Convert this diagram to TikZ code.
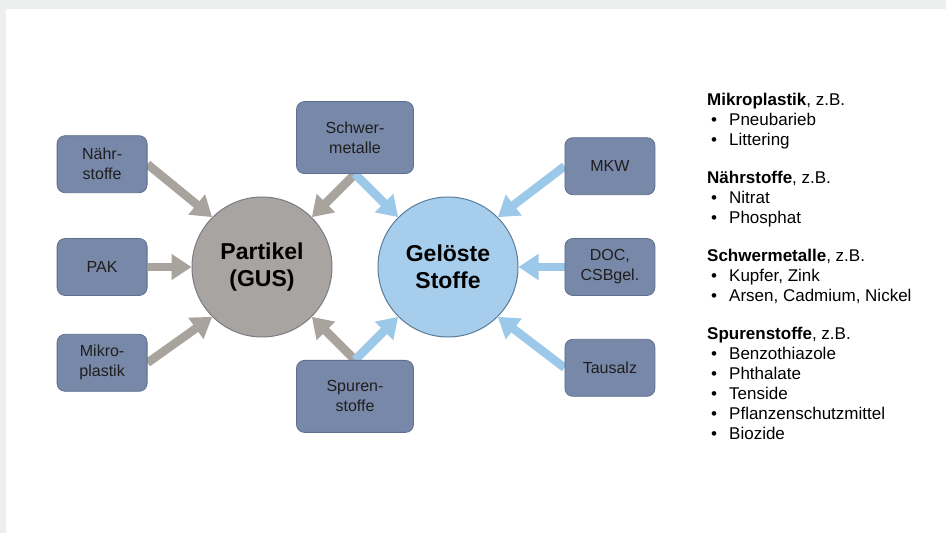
\documentclass[tikz,border=0pt]{standalone}
\usepackage{fontspec}
\setmainfont{Liberation Sans}
\usepackage{xcolor}
\usetikzlibrary{arrows.meta, positioning, calc, backgrounds}

\definecolor{pagegray}{HTML}{EDEFEE}
\definecolor{boxblue}{HTML}{7888A8}
\definecolor{boxline}{HTML}{5E6E8E}
\definecolor{textdark}{HTML}{1E1E1E}
\definecolor{partgray}{HTML}{A8A4A1}
\definecolor{partline}{HTML}{7A7C86}
\definecolor{gelblue}{HTML}{A6CDEB}
\definecolor{gelline}{HTML}{5A7C99}
\definecolor{arrowgray}{HTML}{A9A39E}
\definecolor{arrowblue}{HTML}{9CC8EA}

\newcommand{\listpunkt}[1]{\hspace*{4pt}\makebox[18pt][l]{\textbullet}#1}

\begin{document}
\begin{tikzpicture}[
    x=1pt, y=1pt,
    node distance=44pt,
    box/.style={rectangle, draw=boxline, line width=0.8pt, fill=boxblue, text=textdark, rounded corners=8pt, minimum width=90pt, minimum height=57pt, align=center, font=\fontsize{16}{20}\selectfont},
    widebox/.style={box, minimum width=117pt, minimum height=72pt},
    ball/.style={circle, line width=1pt, minimum size=140pt, inner sep=0pt, align=center, font=\fontsize{23}{27}\selectfont\bfseries},
    garrow/.style={-{Triangle[width=25pt,length=20pt]}, line width=8.5pt, draw=arrowgray},
    barrow/.style={garrow, draw=arrowblue}
]

    % Page
    \begin{scope}[on background layer]
        \fill [pagegray] (0,0) rectangle (946,533);
        \fill [white] (6,0) rectangle (946,524);
    \end{scope}
    \useasboundingbox (0,0) rectangle (946,533);

    % Circles
    \node [ball, draw=partline, fill=partgray] (partikel) at (262,266) {Partikel\\(GUS)};
    \node [ball, draw=gelline, fill=gelblue, right=45pt of partikel] (geloest) {Gelöste\\Stoffe};

    % Left boxes
    \node [box, left=44pt of partikel] (pak) {PAK};
    \node [box, above=45pt of pak] (naehr) {Nähr-\\stoffe};
    \node [box, below=38pt of pak] (mikro) {Mikro-\\plastik};

    % Middle boxes
    \coordinate (mitte) at ($(partikel)!0.5!(geloest)$);
    \node [widebox, above=93pt of mitte] (schwer) {Schwer-\\metalle};
    \node [widebox, below=93pt of mitte] (spuren) {Spuren-\\stoffe};

    % Right boxes
    \node [box, right=46pt of geloest] (doc) {DOC,\\CSBgel.};
    \node [box, above=43pt of doc] (mkw) {MKW};
    \node [box, below=43pt of doc] (tausalz) {Tausalz};

    % Examples list
    \node [anchor=north west, inner sep=0pt, align=left, font=\fontsize{17}{20}\selectfont] (liste) at (707,440) {%
        \textbf{Mikroplastik}, z.B.\\
        \listpunkt{Pneubarieb}\\
        \listpunkt{Littering}\\[18pt]
        \textbf{Nährstoffe}, z.B.\\
        \listpunkt{Nitrat}\\
        \listpunkt{Phosphat}\\[18pt]
        \textbf{Schwermetalle}, z.B.\\
        \listpunkt{Kupfer, Zink}\\
        \listpunkt{Arsen, Cadmium, Nickel}\\[18pt]
        \textbf{Spurenstoffe}, z.B.\\
        \listpunkt{Benzothiazole}\\
        \listpunkt{Phthalate}\\
        \listpunkt{Tenside}\\
        \listpunkt{Pflanzenschutzmittel}\\
        \listpunkt{Biozide}};

    % Arrows
    \begin{scope}[on background layer]
        \draw [garrow] (naehr.east) -- (partikel.135);
        \draw [garrow] (pak) -- (partikel);
        \draw [garrow] (mikro.east) -- (partikel.225);
        \draw [garrow] (schwer.south) -- (partikel.45);
        \draw [garrow] (spuren.north) -- (partikel.-45);
        \draw [barrow] (schwer.south) -- (geloest.135);
        \draw [barrow] (spuren.north) -- (geloest.-135);
        \draw [barrow] (mkw.west) -- (geloest.45);
        \draw [barrow] (doc) -- (geloest);
        \draw [barrow] (tausalz.west) -- (geloest.-45);
    \end{scope}

\end{tikzpicture}
\end{document}
